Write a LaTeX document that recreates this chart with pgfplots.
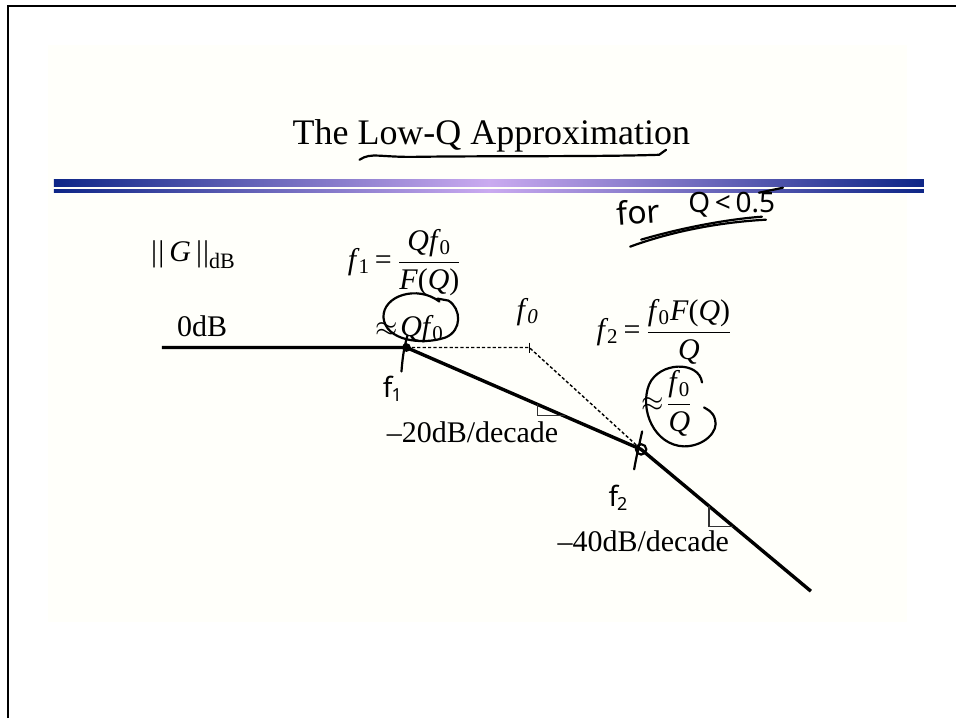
\documentclass[border=0pt]{standalone}
\usepackage{pgfplots}
\pgfplotsset{compat=1.18}
\usepackage{fontspec}
\setmainfont{Liberation Serif}
\newfontfamily\hand{Noto Sans}
\definecolor{barnavy}{RGB}{14,38,135}
\definecolor{barlav}{RGB}{202,170,240}
\definecolor{slide}{RGB}{255,255,250}
\tikzset{ink/.style={black, line width=1.1pt, line cap=round, line join=round}}
\newcommand{\dsz}{\fontsize{15}{18}\selectfont}
\newcommand{\fsub}[1]{\textit{f}\kern-0.6pt\textsubscript{#1}}
\newcommand{\fr}[2]{$\displaystyle\frac{\mbox{#1}}{\mbox{#2}}$}

\begin{document}
\begin{tikzpicture}
\begin{axis}[
  scale only axis, width=478.5pt, height=359.5pt,
  xmin=0, xmax=957, ymin=0, ymax=719, y dir=reverse,
  hide axis, clip=false]
% page, slide area and frame
\fill[white] (0,0) rectangle (957,719);
\fill[slide] (48,45) rectangle (908,623);
\draw[line width=1.3pt] (8,719) -- (8,6) -- (957,6);

% title and rule
\node[anchor=base, inner sep=0] at (492,145) {\fontsize{18}{21}\selectfont The Low-Q Approximation};
\shade[left color=barnavy, right color=barnavy, middle color=barlav] (54,180) rectangle (925,187);
\shade[left color=barnavy, right color=barnavy, middle color=barlav] (54,190) rectangle (925,193);

% asymptotes
\addplot[black, line width=1.7pt, line join=round] coordinates {(162,348) (407,348) (642,450) (812,592)};
\addplot[black, line width=0.7pt, dash pattern=on 1.6pt off 1.1pt] coordinates {(407,348) (530,348) (642,450)};
\addplot[black, line width=0.7pt] coordinates {(530,343) (530,353)};
% slope markers
\addplot[black!80, line width=0.6pt] coordinates {(538,405) (538,416) (566,416)};
\addplot[black!80, line width=0.6pt] coordinates {(710,507) (710,527) (734,527)};

% labels
\node[anchor=base west, inner sep=0] at (151,262) {\dsz |\kern0.6pt|\,\textit{G}\,|\kern0.6pt|{\fontsize{11}{12}\selectfont\raisebox{-3.5pt}{dB}}};
\node[anchor=base west, inner sep=0] at (348,270) {\dsz \fsub{1}\,=\,\fr{\textit{Qf}\kern-0.6pt\textsubscript{0}}{\textit{F}(\textit{Q})}};
\node[anchor=base west, inner sep=0] at (376,337) {\dsz $\approx$\kern1pt\textit{Qf}\kern-0.6pt\textsubscript{0}};
\node[anchor=base west, inner sep=0] at (517,320) {\dsz \textit{f}\kern-0.6pt\textsubscript{\textit{0}}};
\node[anchor=base west, inner sep=0] at (177,337) {\dsz 0dB};
\node[anchor=base west, inner sep=0] at (597,340) {\dsz \fsub{2}\,=\,\fr{\fsub{0}\textit{F}(\textit{Q})}{\textit{Q}}};
\node[anchor=base west, inner sep=0] at (642,412) {\dsz $\approx$\kern1pt\fr{\fsub{0}}{\textit{Q}}};
\node[anchor=base west, inner sep=0] at (387,443) {\dsz \textendash 20dB/decade};
\node[anchor=base west, inner sep=0] at (558,552) {\dsz \textendash 40dB/decade};

% handwritten notes
\draw[ink] (360,160) .. controls (372,152) and (380,158) .. (420,157) .. controls (500,156) and (600,157) .. (660,155) -- (667,150);
\node[anchor=base west, inner sep=0, rotate=4] at (618,226) {\hand\fontsize{16}{18}\selectfont for};
\node[anchor=base west, inner sep=0] at (689,213) {\hand\fontsize{14}{16}\selectfont Q\,<\,0.5};
\draw[ink] (760,193) -- (784,188);
\draw[ink] (631,247) .. controls (680,229) and (730,222) .. (767,220);
\draw[ink] (642,240) .. controls (690,226) and (735,219) .. (763,217);

\draw[ink] (440,302) .. controls (418,285) and (383,296) .. (384,318) .. controls (386,341) and (422,346) .. (446,338) .. controls (463,331) and (462,309) .. (449,301) -- (438,299);
\fill (407,348) circle[radius=2.2pt];
\draw[ink] (408,336) .. controls (404,350) and (403,360) .. (402,372);
\node[anchor=base west, inner sep=0] at (383,398) {\hand\fontsize{14}{16}\selectfont f\kern-0.5pt\raisebox{-2pt}{\fontsize{9}{10}\selectfont 1}};

\draw[ink] (703,383) .. controls (700,361) and (660,362) .. (650,385) .. controls (640,410) and (655,446) .. (685,447) .. controls (705,447) and (720,432) .. (716,420) .. controls (714,412) and (708,410) .. (705,408);
\draw[ink] (642,450) circle[radius=2.6pt];
\draw[ink] (643,432) .. controls (640,446) and (637,458) .. (635,470);
\node[anchor=base west, inner sep=0] at (609,507) {\hand\fontsize{14}{16}\selectfont f\kern-0.5pt\raisebox{-2pt}{\fontsize{9}{10}\selectfont 2}};
\end{axis}
\end{tikzpicture}
\end{document}
